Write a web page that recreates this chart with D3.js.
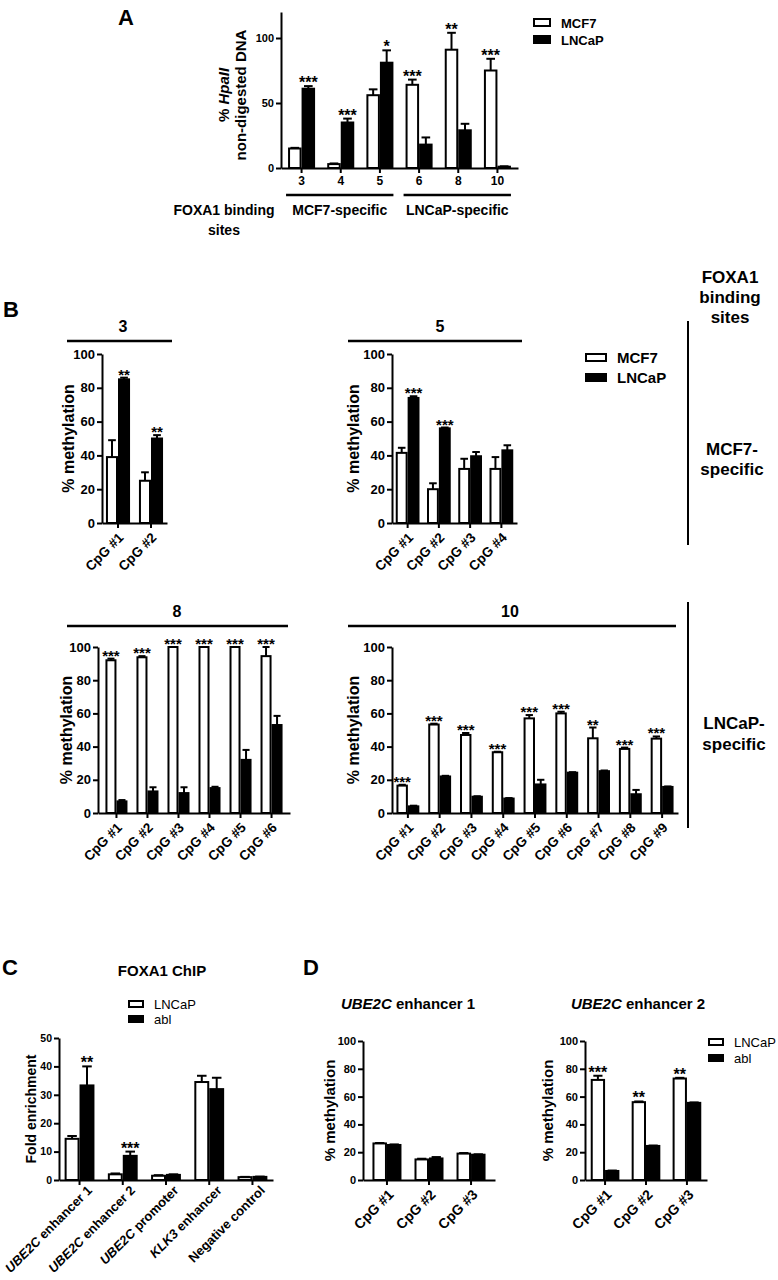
<!DOCTYPE html>
<html>
<head>
<meta charset="utf-8">
<script src="https://cdnjs.cloudflare.com/ajax/libs/d3/7.8.5/d3.min.js"></script>
<style>
body { margin: 0; background: #fff; }
svg text { font-family: 'Liberation Sans', Arial, Helvetica, sans-serif; font-weight: bold; fill: #000; }
</style>
</head>
<body>
<script>
// ---- A: % HpaII non-digested DNA per FOXA1 binding site
var sitesA = ["3", "4", "5", "6", "8", "10"];
var mcf7A = [15, 3, 56, 64, 91, 75];
var mcf7ErrA = [0.5, 0.5, 4.5, 4, 13, 9];
var lncapA = [61, 35, 81, 18, 29, 1];
var lncapErrA = [2, 3, 9.5, 5.5, 5, 0.3];
var starsA = ["***", "***", "*", "***", "**", "***"];
var groupNamesA = ["MCF7-specific", "LNCaP-specific"];
var groupSitesA = [["3", "4", "5"], ["6", "8", "10"]];

// ---- B: % methylation per CpG, one chart per binding site
var cpg = ["CpG #1", "CpG #2", "CpG #3", "CpG #4", "CpG #5", "CpG #6", "CpG #7", "CpG #8", "CpG #9"];

var mcf7B3 = [39, 25];
var mcf7ErrB3 = [10, 5];
var lncapB3 = [85, 50];
var lncapErrB3 = [1, 2];
var starsB3 = ["**", "**"];

var mcf7B5 = [41.5, 20, 32, 32];
var mcf7ErrB5 = [3, 3.5, 6, 7];
var lncapB5 = [74, 56, 39.5, 43];
var lncapErrB5 = [1, 0.5, 2.5, 3];
var starsB5 = ["***", "***", "", ""];

var mcf7B8 = [92, 93.8, 100, 100, 100, 94.5];
var mcf7ErrB8 = [1, 0.7, 0, 0, 0, 5.5];
var lncapB8 = [7, 13, 12, 15, 32, 53];
var lncapErrB8 = [0.8, 2.5, 3.5, 0.8, 6, 5.5];
var starsB8 = ["***", "***", "***", "***", "***", "***"];

var mcf7B10 = [16.5, 53.3, 47, 36.6, 57, 60, 45, 38.6, 44.8];
var mcf7ErrB10 = [0.5, 0.5, 1.2, 0.3, 2, 1, 6.5, 0.8, 1.3];
var lncapB10 = [4, 22, 9.8, 8.7, 17.2, 24.3, 25.2, 11.3, 15.7];
var lncapErrB10 = [0.4, 0.4, 0.3, 0.3, 2.8, 0.3, 0.4, 2.6, 0.3];
var starsB10 = ["***", "***", "***", "***", "***", "***", "**", "***", "***"];

// ---- C: FOXA1 ChIP fold enrichment
var regionsC = ["UBE2C enhancer 1", "UBE2C enhancer 2", "UBE2C promoter", "KLK3 enhancer", "Negative control"];
var lncapC = [14.5, 2, 1.5, 34.5, 1];
var lncapErrC = [1, 0.3, 0.2, 2.2, 0.1];
var ablC = [33.3, 8.5, 1.8, 32, 1.1];
var ablErrC = [6.7, 1.5, 0.2, 4, 0.1];
var starsC = ["**", "***", "", "", ""];
var geneNames = ["UBE2C", "KLK3"];

// ---- D: % methylation at UBE2C enhancers
var lncapD1 = [26.3, 14.8, 19];
var lncapErrD1 = [0.3, 0.5, 0.4];
var ablD1 = [25.2, 15.5, 18.2];
var ablErrD1 = [0.4, 1, 0.3];
var starsD1 = ["", "", ""];

var lncapD2 = [72, 56, 73];
var lncapErrD2 = [3, 0.5, 0.5];
var ablD2 = [6.5, 24.5, 55.5];
var ablErrD2 = [0.3, 0.3, 0.3];
var starsD2 = ["***", "**", "**"];

var svg = d3.select("body").append("svg").attr("width", 778).attr("height", 1280);

function txt(x, y, s, size, anchor) {
    return svg.append("text").attr("x", x).attr("y", y)
        .style("font-size", size + "px").attr("text-anchor", anchor || "middle").text(s);
}

// label with an italic gene name in front, e.g. "UBE2C enhancer 1"
function geneLabel(sel, s) {
    var first = s.split(" ")[0];
    sel.text(null);
    if (geneNames.indexOf(first) >= 0) {
        sel.append("tspan").style("font-style", "italic").text(first);
        sel.append("tspan").text(s.slice(first.length));
    } else {
        sel.text(s);
    }
}

function chart(c) {
    var g = svg.append("g");
    var x = d3.scaleBand().domain(c.cats).range([c.x0, c.x1]).paddingInner(c.pi).paddingOuter(c.po);
    var sub = d3.scaleBand().domain(d3.range(c.vals.length)).range([0, x.bandwidth()]);
    var y = d3.scaleLinear().domain([0, c.yMax]).range([c.y0, c.yTop]);
    var fills = ["#fff", "#000"];
    var bw = sub.bandwidth();

    c.vals.forEach(function(vals, s) {
        g.append("g").selectAll("rect").data(vals).enter().append("rect")
            .attr("x", function(d, i) { return x(c.cats[i]) + sub(s) + 1; })
            .attr("width", bw - 2)
            .attr("y", function(d) { return y(d); })
            .attr("height", function(d) { return y(0) - y(d); })
            .attr("fill", fills[s]).attr("stroke", "#000").attr("stroke-width", 2);
    });
    // upper error bars + stars over the taller bar
    c.cats.forEach(function(cat, i) {
        var best = 0, bestTop = -1;
        c.vals.forEach(function(vals, s) {
            var e = c.errs[s][i], top = vals[i] + e;
            var cx = x(cat) + sub(s) + bw / 2;
            if (e > 0) {
                g.append("line").attr("x1", cx).attr("x2", cx)
                    .attr("y1", y(vals[i])).attr("y2", y(top))
                    .attr("stroke", "#000").attr("stroke-width", 2);
                g.append("line").attr("x1", cx - bw * 0.32).attr("x2", cx + bw * 0.32)
                    .attr("y1", y(top)).attr("y2", y(top))
                    .attr("stroke", "#000").attr("stroke-width", 2);
            }
            if (top > bestTop) { bestTop = top; best = s; }
        });
        if (c.stars[i]) {
            g.append("text")
                .attr("x", x(cat) + sub(best) + bw / 2)
                .attr("y", y(bestTop) + 2)
                .attr("text-anchor", "middle")
                .style("font-size", c.starFont + "px")
                .text(c.stars[i]);
        }
    });

    var ya = g.append("g").attr("transform", "translate(" + c.x0 + ",0)")
        .call(d3.axisLeft(y).tickValues(c.ticks).tickSize(5).tickSizeOuter(0).tickPadding(2));
    var xa = g.append("g").attr("transform", "translate(0," + c.y0 + ")")
        .call(d3.axisBottom(x).tickSize(5).tickSizeOuter(0).tickPadding(3));
    [ya, xa].forEach(function(a) {
        a.attr("font-family", null);
        a.select(".domain").attr("stroke-width", 2);
        a.selectAll(".tick line").attr("stroke-width", 2);
    });
    ya.selectAll("text").style("font-size", c.tickFont + "px");
    xa.selectAll("text").style("font-size", c.catFont + "px");
    if (c.rotate) {
        xa.selectAll("text")
            .attr("transform", "translate(" + c.lx + "," + c.ly + ") rotate(-45)")
            .attr("x", 0).attr("y", 0).attr("dy", "0.35em")
            .attr("text-anchor", "end")
            .each(function(d) { geneLabel(d3.select(this), d); });
    }
    if (c.ylab) {
        svg.append("text")
            .attr("transform", "translate(" + c.ylabX + "," + (c.y0 + c.yTop) / 2 + ") rotate(-90)")
            .attr("text-anchor", "middle").style("font-size", c.ylabFont + "px").text(c.ylab);
    }
    if (c.title != null) {
        txt(c.titleX, c.titleY, c.title, 16);
        svg.append("line").attr("x1", c.tx0).attr("x2", c.tx1)
            .attr("y1", c.titleY + 9).attr("y2", c.titleY + 9)
            .attr("stroke", "#000").attr("stroke-width", 2.5);
    }
    return x;
}

function legend(x, y, names, size, w, h, gap, weight) {
    names.forEach(function(n, i) {
        svg.append("rect").attr("x", x + 1).attr("y", y + i * gap + 1)
            .attr("width", w - 2).attr("height", h - 2)
            .attr("fill", i ? "#000" : "#fff").attr("stroke", "#000").attr("stroke-width", 2);
        txt(x + w + 10, y + i * gap + h + 1, n, size, "start").style("font-weight", weight);
    });
}

// ================= A
txt(126, 25, "A", 22);
var xA = chart({
    cats: sitesA, vals: [mcf7A, lncapA], errs: [mcf7ErrA, lncapErrA], stars: starsA,
    x0: 281, x1: 518, y0: 168, yTop: 12, yMax: 120, ticks: [0, 50, 100],
    pi: 0.31, po: 0.18, tickFont: 11, catFont: 12, starFont: 16
});
var yl = svg.append("text").attr("transform", "translate(229,95) rotate(-90)")
    .attr("text-anchor", "middle").style("font-size", "15px");
yl.append("tspan").text("% ");
yl.append("tspan").style("font-style", "italic").text("HpaII");
svg.append("text").attr("transform", "translate(246,95) rotate(-90)")
    .attr("text-anchor", "middle").style("font-size", "15px").text("non-digested DNA");
groupNamesA.forEach(function(n, i) {
    var sites = groupSitesA[i];
    var a = xA(sites[0]) - 2, b = xA(sites[sites.length - 1]) + xA.bandwidth();
    svg.append("line").attr("x1", a).attr("x2", b).attr("y1", 195).attr("y2", 195)
        .attr("stroke", "#000").attr("stroke-width", 2.5);
    txt((a + b) / 2, 215, n, 14);
});
txt(224, 215, "FOXA1 binding", 14);
txt(224, 235, "sites", 14);
legend(533, 18, ["MCF7", "LNCaP"], 13, 18, 9, 17, "bold");

// ================= B
txt(11, 317, "B", 22);
var bCommon = { yMax: 100, ticks: [0, 20, 40, 60, 80, 100], tickFont: 13, catFont: 13.5, starFont: 15,
    rotate: true, lx: 3, ly: 12, ylab: "% methylation", ylabFont: 16 };
chart(Object.assign({}, bCommon, {
    cats: cpg.slice(0, 2), vals: [mcf7B3, lncapB3], errs: [mcf7ErrB3, lncapErrB3], stars: starsB3,
    x0: 102, x1: 167, y0: 523, yTop: 354, pi: 0.27, po: 0.12, ylabX: 74,
    title: "3", titleY: 332, tx0: 67, tx1: 172, titleX: 123
}));
chart(Object.assign({}, bCommon, {
    cats: cpg.slice(0, 4), vals: [mcf7B5, lncapB5], errs: [mcf7ErrB5, lncapErrB5], stars: starsB5,
    x0: 392, x1: 517, y0: 523, yTop: 354, pi: 0.24, po: 0.12, ylabX: 359,
    title: "5", titleY: 332, tx0: 348, tx1: 522, titleX: 440
}));
chart(Object.assign({}, bCommon, {
    cats: cpg.slice(0, 6), vals: [mcf7B8, lncapB8], errs: [mcf7ErrB8, lncapErrB8], stars: starsB8,
    x0: 98, x1: 290, y0: 813, yTop: 647, pi: 0.29, po: 0.24, ylabX: 72,
    title: "8", titleY: 617, tx0: 67, tx1: 288, titleX: 177
}));
chart(Object.assign({}, bCommon, {
    cats: cpg.slice(0, 9), vals: [mcf7B10, lncapB10], errs: [mcf7ErrB10, lncapErrB10], stars: starsB10,
    x0: 392, x1: 678, y0: 813, yTop: 647, pi: 0.28, po: 0.14, ylabX: 359,
    title: "10", titleY: 617, tx0: 348, tx1: 676, titleX: 510
}));
legend(585, 353, ["MCF7", "LNCaP"], 15, 22, 9, 20, "bold");
svg.append("line").attr("x1", 688).attr("x2", 688).attr("y1", 321).attr("y2", 545)
    .attr("stroke", "#000").attr("stroke-width", 2);
svg.append("line").attr("x1", 688).attr("x2", 688).attr("y1", 602).attr("y2", 828)
    .attr("stroke", "#000").attr("stroke-width", 2);
txt(730, 283, "FOXA1", 17);
txt(730, 303, "binding", 17);
txt(730, 323, "sites", 17);
txt(732, 455, "MCF7-", 17);
txt(732, 475, "specific", 17);
txt(734, 729, "LNCaP-", 17);
txt(734, 750, "specific", 17);

// ================= C
txt(10, 975, "C", 22);
txt(162, 976, "FOXA1 ChIP", 15);
legend(128, 1000, ["LNCaP", "abl"], 13, 16, 8, 15, "normal");
chart({
    cats: regionsC, vals: [lncapC, ablC], errs: [lncapErrC, ablErrC], stars: starsC,
    x0: 59, x1: 273, y0: 1180, yTop: 1038, yMax: 50, ticks: [0, 10, 20, 30, 40, 50],
    pi: 0.31, po: 0.13, tickFont: 10.5, catFont: 13, starFont: 16,
    rotate: true, lx: 10, ly: 8, ylab: "Fold enrichment", ylabFont: 14, ylabX: 36
});

// ================= D
txt(311, 975, "D", 22);
var dCommon = { yMax: 100, ticks: [0, 20, 40, 60, 80, 100], tickFont: 11, catFont: 14, starFont: 16,
    rotate: true, lx: 4, ly: 12, ylab: "% methylation", ylabFont: 15 };
chart(Object.assign({}, dCommon, {
    cats: cpg.slice(0, 3), vals: [lncapD1, ablD1], errs: [lncapErrD1, ablErrD1], stars: starsD1,
    x0: 363, x1: 495, y0: 1180, yTop: 1041, pi: 0.31, po: 0.225, ylabX: 335
}));
chart(Object.assign({}, dCommon, {
    cats: cpg.slice(0, 3), vals: [lncapD2, ablD2], errs: [lncapErrD2, ablErrD2], stars: starsD2,
    x0: 585, x1: 707, y0: 1180, yTop: 1041, pi: 0.3, po: 0.14, ylabX: 553
}));
geneLabel(txt(408, 1009, "", 15), "UBE2C enhancer 1");
geneLabel(txt(638, 1009, "", 15), "UBE2C enhancer 2");
legend(708, 1038, ["LNCaP", "abl"], 13, 16, 8, 16, "normal");
</script>
</body>
</html>
